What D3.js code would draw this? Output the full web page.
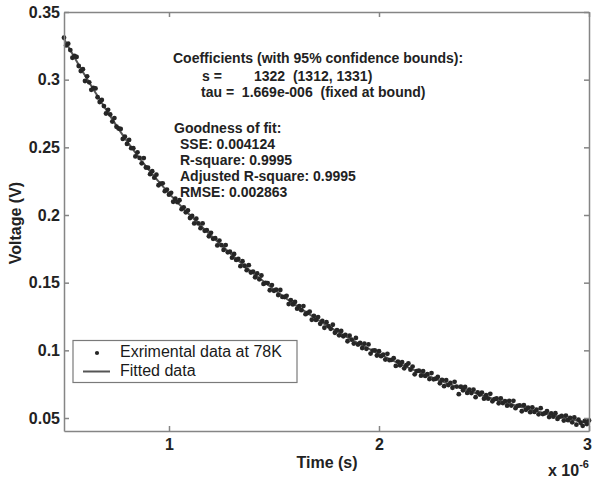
<!DOCTYPE html>
<html>
<head>
<meta charset="utf-8">
<style>
  body { margin: 0; background: #fff; }
  svg { display: block; font-family: "Liberation Sans", Arial, sans-serif; }
  .axis path, .axis line { stroke: #858585; stroke-width: 1.5; }
  .axis text { font-size: 16px; font-weight: bold; fill: #222; }
  .note { font-size: 14px; font-weight: bold; fill: #222; white-space: pre; }
</style>
<title>Voltage decay fit</title>
</head>
<body>
<script src="https://cdn.jsdelivr.net/npm/d3@7"></script>
<script>

// measured points (time in microseconds, voltage in V)
var expTime = [
  0.50,0.51,0.52,0.53,0.54,0.55,0.56,0.57,0.58,0.59,
  0.60,0.61,0.62,0.63,0.64,0.65,0.66,0.67,0.68,0.69,
  0.70,0.71,0.72,0.73,0.74,0.75,0.76,0.77,0.78,0.79,
  0.80,0.81,0.82,0.83,0.84,0.85,0.86,0.87,0.88,0.89,
  0.90,0.91,0.92,0.93,0.94,0.95,0.96,0.97,0.98,0.99,
  1.00,1.01,1.02,1.03,1.04,1.05,1.06,1.07,1.08,1.09,
  1.10,1.11,1.12,1.13,1.14,1.15,1.16,1.17,1.18,1.19,
  1.20,1.21,1.22,1.23,1.24,1.25,1.26,1.27,1.28,1.29,
  1.30,1.31,1.32,1.33,1.34,1.35,1.36,1.37,1.38,1.39,
  1.40,1.41,1.42,1.43,1.44,1.45,1.46,1.47,1.48,1.49,
  1.50,1.51,1.52,1.53,1.54,1.55,1.56,1.57,1.58,1.59,
  1.60,1.61,1.62,1.63,1.64,1.65,1.66,1.67,1.68,1.69,
  1.70,1.71,1.72,1.73,1.74,1.75,1.76,1.77,1.78,1.79,
  1.80,1.81,1.82,1.83,1.84,1.85,1.86,1.87,1.88,1.89,
  1.90,1.91,1.92,1.93,1.94,1.95,1.96,1.97,1.98,1.99,
  2.00,2.01,2.02,2.03,2.04,2.05,2.06,2.07,2.08,2.09,
  2.10,2.11,2.12,2.13,2.14,2.15,2.16,2.17,2.18,2.19,
  2.20,2.21,2.22,2.23,2.24,2.25,2.26,2.27,2.28,2.29,
  2.30,2.31,2.32,2.33,2.34,2.35,2.36,2.37,2.38,2.39,
  2.40,2.41,2.42,2.43,2.44,2.45,2.46,2.47,2.48,2.49,
  2.50,2.51,2.52,2.53,2.54,2.55,2.56,2.57,2.58,2.59,
  2.60,2.61,2.62,2.63,2.64,2.65,2.66,2.67,2.68,2.69,
  2.70,2.71,2.72,2.73,2.74,2.75,2.76,2.77,2.78,2.79,
  2.80,2.81,2.82,2.83,2.84,2.85,2.86,2.87,2.88,2.89,
  2.90,2.91,2.92,2.93,2.94,2.95,2.96,2.97,2.98,2.99,
  3.00
];
var expVolt = [
  0.3310,0.3253,0.3266,0.3219,0.3162,0.3175,0.3168,0.3101,0.3064,0.3077,
  0.2990,0.3025,0.2980,0.2925,0.2940,0.2935,0.2870,0.2835,0.2850,0.2805,
  0.2750,0.2777,0.2743,0.2690,0.2716,0.2652,0.2639,0.2636,0.2562,0.2579,
  0.2525,0.2555,0.2494,0.2494,0.2433,0.2463,0.2422,0.2382,0.2421,0.2351,
  0.2350,0.2302,0.2324,0.2276,0.2298,0.2220,0.2232,0.2234,0.2176,0.2188,
  0.2150,0.2164,0.2098,0.2121,0.2095,0.2109,0.2043,0.2057,0.2020,0.2034,
  0.1978,0.1993,0.1938,0.1973,0.1938,0.1903,0.1938,0.1883,0.1888,0.1843,
  0.1868,0.1824,0.1829,0.1775,0.1811,0.1777,0.1742,0.1778,0.1724,0.1729,
  0.1685,0.1712,0.1668,0.1675,0.1622,0.1659,0.1625,0.1592,0.1629,0.1575,
  0.1582,0.1540,0.1568,0.1525,0.1553,0.1491,0.1499,0.1497,0.1444,0.1482,
  0.1440,0.1449,0.1408,0.1446,0.1395,0.1394,0.1403,0.1342,0.1370,0.1339,
  0.1358,0.1308,0.1327,0.1297,0.1327,0.1267,0.1276,0.1286,0.1226,0.1255,
  0.1225,0.1246,0.1196,0.1217,0.1167,0.1208,0.1178,0.1159,0.1189,0.1130,
  0.1150,0.1111,0.1143,0.1104,0.1115,0.1067,0.1108,0.1079,0.1050,0.1092,
  0.1043,0.1055,0.1017,0.1049,0.1011,0.1044,0.0976,0.0998,0.1000,0.0962,
  0.0994,0.0957,0.0969,0.0932,0.0974,0.0927,0.0930,0.0942,0.0885,0.0917,
  0.0890,0.0913,0.0867,0.0890,0.0903,0.0857,0.0880,0.0823,0.0846,0.0850,
  0.0813,0.0847,0.0811,0.0824,0.0788,0.0832,0.0786,0.0790,0.0803,0.0757,
  0.0781,0.0735,0.0780,0.0744,0.0759,0.0723,0.0767,0.0732,0.0676,0.0731,
  0.0705,0.0730,0.0685,0.0709,0.0684,0.0709,0.0654,0.0689,0.0673,0.0688,
  0.0643,0.0668,0.0643,0.0679,0.0624,0.0639,0.0644,0.0609,0.0645,0.0610,
  0.0625,0.0591,0.0626,0.0592,0.0627,0.0573,0.0589,0.0594,0.0550,0.0595,
  0.0561,0.0577,0.0543,0.0579,0.0545,0.0561,0.0527,0.0573,0.0529,0.0535,
  0.0551,0.0507,0.0534,0.0510,0.0536,0.0493,0.0509,0.0515,0.0481,0.0518,
  0.0484,0.0501,0.0468,0.0504,0.0451,0.0488,0.0465,0.0442,0.0478,0.0455,
  0.0482
];

// fitted curve
var fitTime = [0.5,0.6,0.7,0.8,0.9,1.0,1.1,1.2,1.3,1.4,1.5,1.6,1.7,1.8,1.9,
               2.0,2.1,2.2,2.3,2.4,2.5,2.6,2.7,2.8,2.9,3.0];
var fitVolt = [0.3300,0.3030,0.2780,0.2545,0.2340,0.2160,0.1998,0.1848,0.1705,0.1572,
               0.1450,0.1338,0.1235,0.1140,0.1053,0.0974,0.0900,0.0833,0.0771,0.0715,
               0.0663,0.0615,0.0571,0.0531,0.0494,0.0462];

var xTicks = [1, 2, 3];
var yTicks = [0.05, 0.1, 0.15, 0.2, 0.25, 0.3, 0.35];

var legendLabels = ["Exrimental data at 78K", "Fitted data"];
var noteLines = [
  {x: 173, y: 63,  t: "Coefficients (with 95% confidence bounds):"},
  {x: 202, y: 81,  t: "s ="},
  {x: 254, y: 81,  t: "1322  (1312, 1331)"},
  {x: 201, y: 97,  t: "tau =  1.669e-006  (fixed at bound)"},
  {x: 174, y: 133, t: "Goodness of fit:"},
  {x: 180, y: 149, t: "SSE: 0.004124"},
  {x: 180, y: 165, t: "R-square: 0.9995"},
  {x: 180, y: 181, t: "Adjusted R-square: 0.9995"},
  {x: 180, y: 197, t: "RMSE: 0.002863"}
];

var W = 593, H = 480;
var box = {left: 64, right: 589, top: 12, bottom: 431};

var x = d3.scaleLinear().domain([0.5, 3]).range([box.left, box.right]);
var y = d3.scaleLinear().domain([0.0404, 0.35]).range([box.bottom, box.top]);

var svg = d3.select("body").append("svg")
    .attr("width", W)
    .attr("height", H);

svg.append("rect").attr("width", W).attr("height", H).attr("fill", "#fff");

// fitted line under the dots
var line = d3.line()
    .x((d, i) => x(fitTime[i]))
    .y(d => y(d))
    .curve(d3.curveCatmullRom);

svg.append("path")
    .datum(fitVolt)
    .attr("d", line)
    .attr("fill", "none")
    .attr("stroke", "#555")
    .attr("stroke-width", 2);

svg.append("g").selectAll("circle")
    .data(expVolt)
  .enter().append("circle")
    .attr("cx", (d, i) => x(expTime[i]))
    .attr("cy", d => y(d))
    .attr("r", 2.4)
    .attr("fill", "#262626");

// axes, matlab style: ticks pointing inward on all four sides
var xAxisBottom = svg.append("g").attr("class", "axis")
    .attr("transform", `translate(0,${box.bottom})`)
    .call(d3.axisBottom(x).tickValues(xTicks).tickSize(-5).tickSizeOuter(0).tickPadding(8)
        .tickFormat(d3.format("d")));
// the last label sits on the right edge, nudge it inside
xAxisBottom.selectAll(".tick text").filter(d => d === 3).attr("dx", -2);

svg.append("g").attr("class", "axis")
    .attr("transform", `translate(0,${box.top})`)
    .call(d3.axisTop(x).tickValues(xTicks).tickSize(-5).tickSizeOuter(0).tickFormat(""));
svg.append("g").attr("class", "axis")
    .attr("transform", `translate(${box.left},0)`)
    .call(d3.axisLeft(y).tickValues(yTicks).tickSize(-5).tickSizeOuter(0).tickPadding(4)
        .tickFormat(d3.format("")));
svg.append("g").attr("class", "axis")
    .attr("transform", `translate(${box.right},0)`)
    .call(d3.axisRight(y).tickValues(yTicks).tickSize(-5).tickSizeOuter(0).tickFormat(""));

svg.selectAll(".axis .domain").attr("fill", "none");

// axis titles
svg.append("text")
    .attr("x", 327).attr("y", 468)
    .attr("text-anchor", "middle")
    .style("font-size", "16px").style("font-weight", "bold").attr("fill", "#222")
    .text("Time (s)");

svg.append("text")
    .attr("transform", "translate(21,223) rotate(-90)")
    .attr("text-anchor", "middle")
    .style("font-size", "16px").style("font-weight", "bold").attr("fill", "#222")
    .text("Voltage (V)");

var mult = svg.append("text")
    .attr("x", 548).attr("y", 476)
    .style("font-size", "16px").style("font-weight", "bold").attr("fill", "#222");
mult.append("tspan").text("x 10");
mult.append("tspan").attr("dy", -8).style("font-size", "11px").text("-6");

// fit report
svg.append("g").selectAll("text")
    .data(noteLines)
  .enter().append("text")
    .attr("class", "note")
    .attr("x", d => d.x)
    .attr("y", d => d.y)
    .text(d => d.t);

// legend
var leg = svg.append("g");
leg.append("rect")
    .attr("x", 73).attr("y", 340.5)
    .attr("width", 224).attr("height", 42)
    .attr("fill", "#fff")
    .attr("stroke", "#7a7a7a")
    .attr("stroke-width", 1.2);
leg.append("circle")
    .attr("cx", 97).attr("cy", 353)
    .attr("r", 2.1).attr("fill", "#262626");
leg.append("line")
    .attr("x1", 83).attr("x2", 110)
    .attr("y1", 371.5).attr("y2", 371.5)
    .attr("stroke", "#555").attr("stroke-width", 2);
leg.selectAll("text.lbl")
    .data(legendLabels)
  .enter().append("text")
    .attr("class", "lbl")
    .attr("x", 120)
    .attr("y", (d, i) => 357 + i * 19)
    .style("font-size", "16px")
    .attr("fill", "#1a1a1a")
    .text(d => d);

</script>
</body>
</html>
